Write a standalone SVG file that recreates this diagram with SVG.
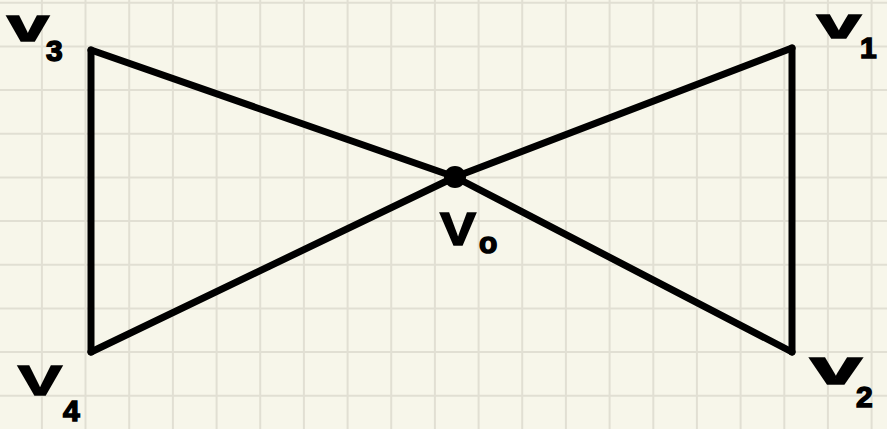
<svg xmlns="http://www.w3.org/2000/svg" width="887" height="429" viewBox="0 0 887 429">
<style>
.grid{stroke:#e1dfd3;stroke-width:2;fill:none}
.edge{stroke:#000;stroke-width:7;stroke-linecap:round;fill:none}
.lbl{font-family:"Liberation Sans","DejaVu Sans",sans-serif;font-weight:bold;fill:#000;stroke:#000;stroke-width:1.5}
.sub{font-family:"Liberation Sans","DejaVu Sans",sans-serif;font-weight:bold;fill:#000;font-size:30px;stroke:#000;stroke-width:1.5}
</style>
<rect width="887" height="429" fill="#f7f6ea"/>
<path class="grid" d="M41.9 0V429M85.5 0V429M129.2 0V429M172.9 0V429M216.6 0V429M260.2 0V429M303.9 0V429M347.6 0V429M391.2 0V429M434.9 0V429M478.6 0V429M522.2 0V429M565.9 0V429M609.6 0V429M653.3 0V429M696.9 0V429M740.6 0V429M784.3 0V429M827.9 0V429M871.6 0V429M0 2.7H887M0 46.4H887M0 90H887M0 133.7H887M0 177.4H887M0 221H887M0 264.7H887M0 308.4H887M0 352.1H887M0 395.7H887"/>
<g id="connectors">
<line class="edge" x1="91" y1="50" x2="455" y2="177"/>
<line class="edge" x1="455" y1="177" x2="792" y2="48"/>
<line class="edge" x1="792" y1="48" x2="792" y2="352"/>
<line class="edge" x1="792" y1="352" x2="455" y2="177"/>
<line class="edge" x1="455" y1="177" x2="91" y2="352"/>
<line class="edge" x1="91" y1="352" x2="91" y2="50"/>
</g>
<g id="v0">
<circle cx="455" cy="177" r="11" fill="#000"/>
<text class="lbl" x="440" y="245" font-size="46" textLength="36" lengthAdjust="spacingAndGlyphs">V</text>
<text class="sub" x="479" y="253" font-size="30">o</text>
</g>
<g id="v1">
<text class="lbl" x="817" y="38" font-size="42" textLength="44" lengthAdjust="spacingAndGlyphs">v</text>
<text class="sub" x="860" y="58">1</text>
</g>
<g id="v2">
<text class="lbl" x="810" y="384" font-size="48" textLength="52" lengthAdjust="spacingAndGlyphs">v</text>
<text class="sub" x="856" y="407">2</text>
</g>
<g id="v3">
<text class="lbl" x="7" y="41" font-size="46" textLength="42" lengthAdjust="spacingAndGlyphs">v</text>
<text class="sub" x="46" y="61">3</text>
</g>
<g id="v4">
<text class="lbl" x="18" y="395" font-size="42" textLength="44" lengthAdjust="spacingAndGlyphs">V</text>
<text class="sub" x="63" y="421">4</text>
</g>
</svg>
